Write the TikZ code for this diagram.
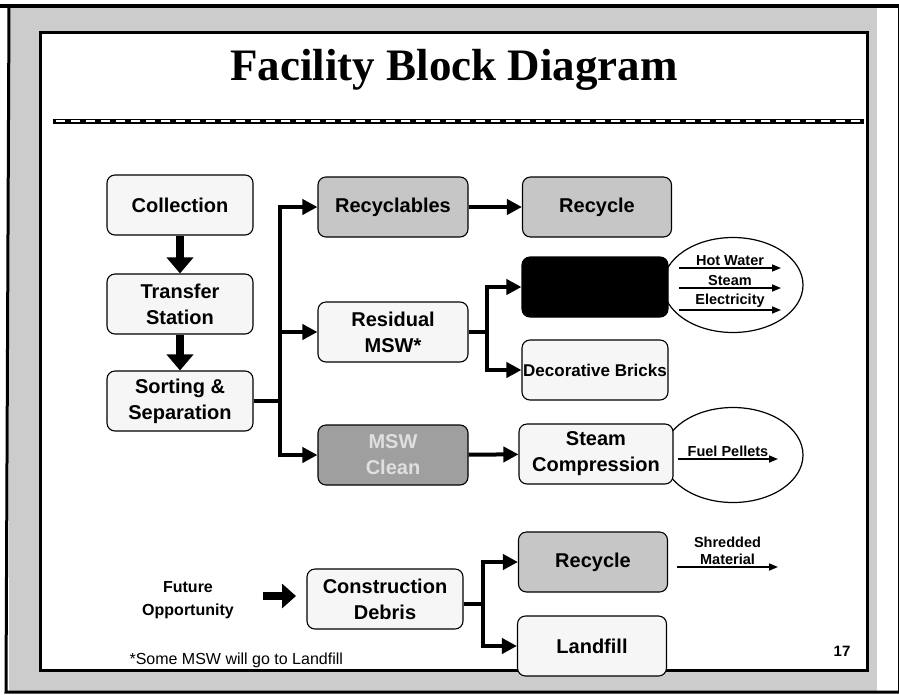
\documentclass[tikz,border=0pt]{standalone}
\usepackage{fontspec}
\setmainfont{Liberation Serif}
\newfontfamily\sfb{Liberation Sans}
\usetikzlibrary{shapes.geometric,arrows.meta,positioning,calc}

\begin{document}
\begin{tikzpicture}[x=1pt, y=-1pt,
    blk/.style={draw, rounded corners=8pt, line width=1.1pt, minimum width=146pt, minimum height=60pt, align=center, fill=gray!7, font=\sfb\bfseries\fontsize{20}{26}\selectfont},
    midblk/.style={blk, fill=gray!45},
    darkblk/.style={blk, fill=gray!75, text=gray!25},
    oval/.style={draw, ellipse, line width=1.2pt, fill=white, minimum width=140pt, minimum height=95pt},
    small/.style={font=\sfb\bfseries\fontsize{14.5}{17}\selectfont, inner sep=1pt},
    down/.style={line width=8pt, -{Triangle[width=26pt,length=16pt]}},
    feed/.style={line width=4pt, -{Triangle[width=15pt,length=15pt]}},
    yield/.style={line width=1.6pt, -{Triangle[width=7pt,length=9pt]}}]
    \useasboundingbox (0,0) rectangle (899,694);
    % frame
    \fill[gray!40] (9,7) rectangle (877,692);
    \fill[white] (40,32) rectangle (867,670);
    \draw[line width=3pt] (40,32) rectangle (867,670);
    \draw[line width=4pt] (0,6) -- (899,6);
    \draw[line width=3pt] (9,6) -- (6,692) -- (899,692);
    \draw[line width=1pt] (898,6) -- (898,692);
    \node[font=\bfseries\fontsize{45}{50}\selectfont] (title) at (454,70) {Facility Block Diagram};
    \draw[line width=5pt] (53,121) -- (864,121);
    \draw[line width=1.5pt, white, dash pattern=on 9pt off 6pt] (56,121) -- (862,121);

    \node[blk] (coll) at (180,205) {Collection};
    \node[blk] (trans) at (180,304) {Transfer\\Station};
    \node[blk] (sort) at (180,401) {Sorting \&\\Separation};
    \node[midblk, minimum width=150pt] (recy) at (393,207) {Recyclables};
    \node[blk, minimum width=150pt] (resid) at (393,332) {Residual\\MSW*};
    \node[darkblk, minimum width=150pt] (clean) at (393,455) {MSW\\Clean};
    \node[midblk, minimum width=149pt] (rcyA) at (597,207) {Recycle};

    \node[oval] (heat) at (733,285) {};
    \node[blk, fill=black, minimum width=146pt] (plant) at (595,287) {};
    \node[blk, font=\sfb\bfseries\fontsize{17}{20}\selectfont, inner sep=1pt] (brick) at (595,370) {Decorative Bricks};
    \node[oval] (fuel) at (733,455) {};
    \node[blk, minimum width=154pt] (steam) at (596,454) {Steam\\Compression};

    \node[blk, minimum width=156pt] (debris) at (385,599) {Construction\\Debris};
    \node[midblk, minimum width=149pt] (rcyB) at (593,562) {Recycle};
    \node[blk, minimum width=149pt] (landf) at (592,646) {Landfill};
    \node[align=center, font=\sfb\bfseries\fontsize{16}{23}\selectfont] (future) at (188,600) {Future\\Opportunity};

    \draw[down] (coll) -- (trans);
    \draw[down] (trans) -- (sort);
    \coordinate (trunk) at (280,401);
    \draw[feed] (sort.east) -- (trunk) |- (recy.west);
    \draw[feed] (sort.east) -- (trunk) |- (resid.west);
    \draw[feed] (sort.east) -- (trunk) |- (clean.west);
    \draw[feed] (recy) -- (rcyA);
    \coordinate (forkA) at (487,332);
    \draw[feed] (resid.east) -- (forkA) |- (plant.west);
    \draw[feed] (resid.east) -- (forkA) |- (brick.west);
    \draw[feed] (clean) -- (steam);
    \coordinate (fo0) at (263,596);
    \coordinate (fo1) at (296,596);
    \draw[line width=8pt, -{Triangle[width=24pt,length=14pt]}] (fo0) -- (fo1);
    \coordinate (forkB) at (483,604);
    \draw[feed] (debris.east |- forkB) -- (forkB) |- (rcyB.west);
    \draw[feed] (debris.east |- forkB) -- (forkB) |- (landf.west);

    % outputs
    \coordinate (hw0) at (679,268); \coordinate (hw1) at (781,268);
    \coordinate (st0) at (679,288); \coordinate (st1) at (781,288);
    \coordinate (el0) at (679,310); \coordinate (el1) at (781,310);
    \coordinate (fp0) at (678,459); \coordinate (fp1) at (778,459);
    \coordinate (sm0) at (677,567); \coordinate (sm1) at (778,567);
    \draw[yield] (hw0) -- (hw1);
    \draw[yield] (st0) -- (st1);
    \draw[yield] (el0) -- (el1);
    \draw[yield] (fp0) -- (fp1);
    \draw[yield] (sm0) -- (sm1);
    \node[small, above=1pt] (hwt) at ($(hw0)!0.5!(hw1)$) {Hot Water};
    \node[small, above=1pt] (stt) at ($(st0)!0.5!(st1)$) {Steam};
    \node[small, above=1pt] (elt) at ($(el0)!0.5!(el1)$) {Electricity};
    \node[small, above=1pt] (fpt) at ($(fp0)!0.5!(fp1)$) {Fuel Pellets};
    \node[small, above=1pt, align=center] (smt) at ($(sm0)!0.5!(sm1)$) {Shredded\\Material};

    \node[anchor=west, font=\sfb\fontsize{16}{19}\selectfont] (note) at (126,660) {*Some MSW will go to Landfill};
    \node[font=\sfb\bfseries\fontsize{15}{18}\selectfont] (page) at (842,651) {17};
\end{tikzpicture}
\end{document}
